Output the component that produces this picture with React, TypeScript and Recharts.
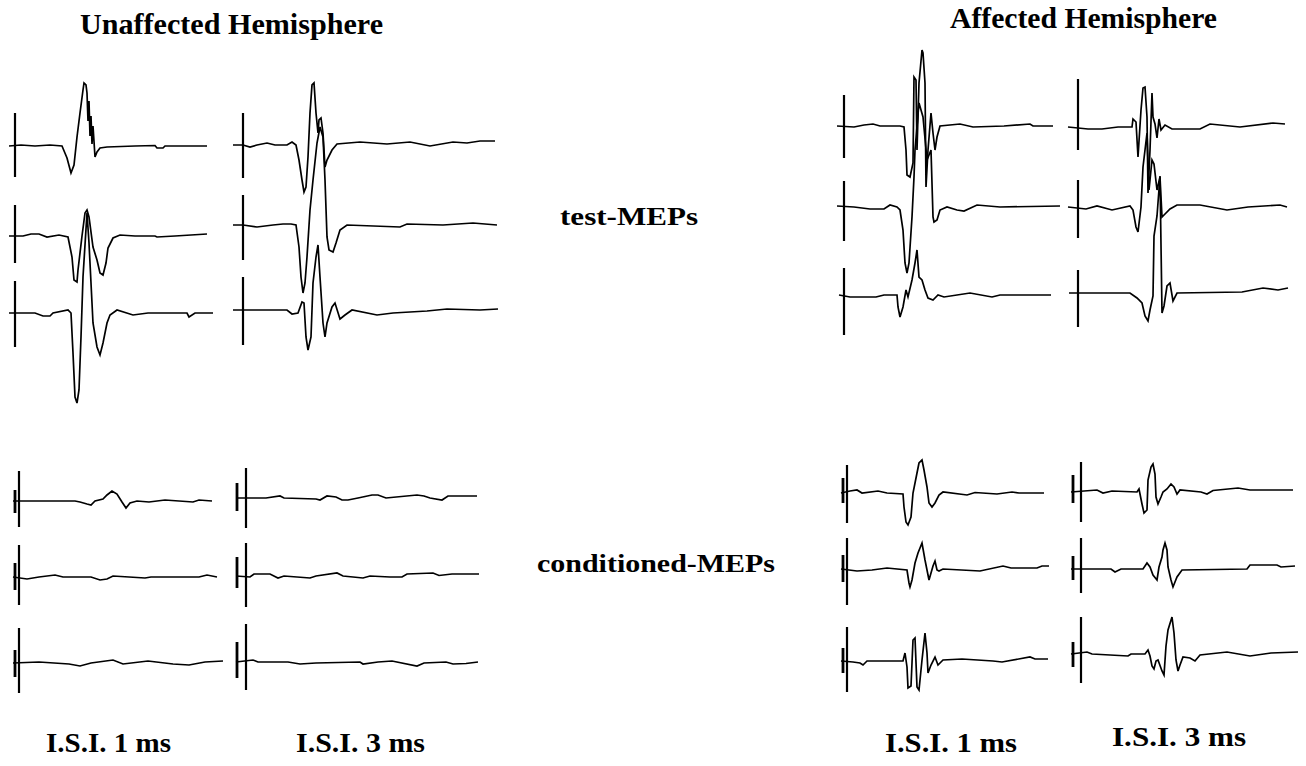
import { LineChart, Line, XAxis, YAxis } from "recharts";

// [time after test stimulus (ms), amplitude (mV)]
type Pt = [number, number];
// stimulus artifact extent [top mV, bottom mV]
type Bar = [number, number];

const HEMISPHERES = ["Unaffected Hemisphere", "Affected Hemisphere"];
const ROW_LABELS = ["test-MEPs", "conditioned-MEPs"];
const ISI_LABELS = ["I.S.I. 1 ms", "I.S.I. 3 ms"];

// ---- unaffected hemisphere, test MEPs, ISI 1 ms
const uaTest1a: Pt[] = [[-3, 0], [3, 0.1], [10, 0], [17.5, 0.1], [23.5, 0], [26, -1.2], [28, -2.7], [29.5, -1.9], [31, 0.9], [32.5, 3.3], [34, 5.6], [34.5, 6.3], [35.5, 6.1], [36, 5.3], [36.5, 2.5], [37, 4.5], [37.5, 1.0], [38, 3.0], [38.5, 0.2], [39, 2.0], [40, -1.1], [41, -0.6], [42.5, -0.2], [46, -0.1], [60, 0], [70, 0.05], [71, -0.2], [74, -0.2], [75, 0], [96, 0]];
const uaTest1b: Pt[] = [[-3, 0], [4, 0], [8, 0.2], [12, 0.2], [16, -0.1], [22, 0.1], [26.5, -0.1], [28.5, -2.1], [29.5, -4.4], [31, -4.6], [31.5, -3.4], [33.5, 0], [35, 2.3], [36, 2.6], [37, 1.9], [39, -1.1], [41, -2.4], [42.5, -3.7], [44, -3.9], [45.5, -2.7], [46.5, -1.2], [49, -0.2], [52.5, 0.1], [60, 0], [70, 0], [71, -0.1], [80, 0], [96, 0.2]];
const uaTest1c: Pt[] = [[-3, 0], [10, 0], [14, -0.3], [17.5, -0.3], [19, 0], [26.5, 0.3], [28, 0], [29, -4], [30, -8.4], [31, -9], [32, -7.7], [33, -2.4], [34, 3.6], [36, 10], [37, 7], [39, -1], [41, -3.4], [42.5, -4.2], [44, -3], [46, -1], [47.5, -0.2], [51, 0.3], [59, -0.2], [66.5, 0], [86, 0], [87, -0.4], [90, 0], [99, 0]];
const uaTest1Stim: Bar[] = [[3.3, -3.1], [3.1, -2.7], [3.2, -3.4]];

// ---- unaffected hemisphere, test MEPs, ISI 3 ms
const uaTest3a: Pt[] = [[-5, 0], [0, 0], [3.5, -0.2], [7, 0], [12, 0.2], [16, 0], [22, 0], [24.5, 0.3], [26.5, 0], [28, -1.5], [29.5, -3.5], [30.5, -4.7], [31.5, -4.2], [32.5, -1.2], [33.5, 3.2], [34.5, 6], [35.5, 6.2], [36.5, 3.2], [37.5, 1.2], [38, 2.5], [39, 2.7], [40, 1.2], [41, -2.2], [42, -1.5], [44.5, -0.5], [47, 0.1], [58.5, 0.3], [72, 0.1], [83.5, 0.3], [93.5, -0.1], [105, 0.3], [112, 0.2], [118.5, 0.4], [126, 0.4]];
const uaTest3b: Pt[] = [[-5, 0], [0, 0], [7, -0.2], [15, 0], [20, 0.1], [24, 0.1], [26.5, 0], [28, -2.2], [29, -5.2], [30, -6.8], [31, -5.8], [32, -3.2], [33.5, 1.5], [35, 4.5], [37, 8.2], [38.5, 9.8], [40, 8.8], [41, 4.5], [42, -1.2], [43, -2.5], [45, -2.7], [46.5, -1.8], [48.5, -0.5], [52, 0], [78.5, -0.2], [82, 0.1], [100, 0], [115, 0.2], [127, 0]];
const uaTest3c: Pt[] = [[-5, 0], [22, 0], [24.5, -0.4], [27.5, -0.3], [29.5, 0.8], [30.5, 0.7], [31.5, -2.7], [32.5, -4], [34, -2.7], [35, 2.7], [36.5, 5.3], [37.5, 6.5], [38.5, 3.3], [40, -1.3], [41, -2.7], [42, -1.3], [44.5, 0.3], [46, 0.7], [48.5, -0.9], [51, -0.5], [54.5, 0], [67, -0.5], [75, -0.3], [92, -0.1], [102, 0.1], [118.5, 0], [127.5, 0.1]];
const uaTest3Stim: Bar[] = [[3.2, -3.3], [3.0, -3.5], [3.3, -3.5]];

// ---- affected hemisphere, test MEPs, ISI 1 ms
const ahTest1a: Pt[] = [[-3.5, 0], [5, -0.1], [10, 0.1], [14.5, 0.2], [18, 0], [28, 0], [30, -0.1], [31, -2.4], [31.5, -4.9], [33, -5.1], [34.5, -3.7], [35, 4.9], [36, 4.6], [36.5, -2.4], [37.5, 4.3], [39, 7.6], [39.5, 7.3], [40.5, 4.3], [41, -6.1], [42, -2.4], [43.5, 1.3], [44.5, -0.7], [45.5, -2.4], [46.5, -1.1], [48, 0], [58, 0.2], [64.5, -0.1], [80, 0], [93, 0.2], [94.5, 0], [104.5, 0]];
const ahTest1b: Pt[] = [[-3.5, 0], [5, -0.1], [13, -0.3], [20, -0.3], [23, 0.1], [26.5, -0.1], [28, -0.4], [29.5, -2.4], [30.5, -5.7], [31.5, -6.7], [32.5, -5.7], [34, -1.1], [35, 2.9], [35.5, 5.6], [37.5, 10.3], [39.5, 8.9], [41.5, 4.6], [43.5, 5.6], [44.5, -1.1], [45, -1.6], [46.5, -1.4], [48, -0.4], [51.5, -0.1], [56.5, -0.4], [60, -0.5], [66.5, 0.1], [78, -0.1], [108, 0]];
const ahTest1c: Pt[] = [[-2.5, 0], [3, -0.2], [10, -0.2], [16, -0.2], [20, 0], [26.5, 0], [27, -1.2], [28, -2.2], [29.5, -1.2], [31, 0.5], [32, -0.2], [34, 1.5], [35.5, 3.2], [36.5, 4.5], [37.5, 1.8], [39, 1.5], [40.5, 0.5], [42, -0.3], [44.5, -0.5], [47, 0], [50, -0.2], [63, 0.2], [74, -0.2], [78, 0], [103.5, 0]];
const ahTest1Stim: Bar[] = [[3.1, -3.2], [2.5, -3.5], [2.7, -4.0]];

// ---- affected hemisphere, test MEPs, ISI 3 ms
const ahTest3a: Pt[] = [[-5, 0], [5, -0.2], [12, -0.2], [20, 0], [27, 0], [27.5, 0.8], [29, 0.5], [30, -3], [31.5, 1.7], [32.5, 3.9], [33.5, 4.0], [34.5, 1], [35, -6.6], [36, -2.3], [37, 3.4], [37.5, 1], [38.5, 0.3], [39.5, -1.1], [40.5, 0.8], [41.5, -0.3], [43.5, 0.2], [47, -0.2], [61, -0.2], [66, 0.3], [81, 0], [97.5, 0.4], [103.5, 0.3]];
const ahTest3b: Pt[] = [[-5, 0], [4, -0.2], [9.5, 0.1], [17, -0.3], [26, 0.1], [27.5, -0.3], [29, -2], [30, -2.5], [31.5, 0], [32.5, 4], [34.5, 7.4], [35.5, 1.7], [37, 4.7], [38, 4.3], [39.5, 1.7], [41, 3], [42, -1], [43.5, -0.7], [46, -0.2], [49.5, 0.2], [61, 0.2], [74.5, -0.3], [85, 0], [101, 0.2], [104.5, 0]];
const ahTest3c: Pt[] = [[-4.5, 0], [26, 0], [29.5, -0.5], [32, -1], [33.5, -2.3], [35, -2.8], [36, -1.7], [37.5, -0.3], [38, 5.7], [39.5, 7.7], [41, 11.7], [42, -2], [43, -1.3], [44.5, 0.7], [46, 1], [47.5, -0.8], [49.5, 0], [82, 0.1], [92.5, 0.5], [100, 0.3], [105, 0.5]];
const ahTest3Stim: Bar[] = [[4.8, -2.3], [2.7, -3.1], [2.3, -3.4]];

// ---- unaffected hemisphere, conditioned MEPs, ISI 1 ms
const uaCond1a: Pt[] = [[-3, 0], [4, 0], [28, 0], [30.5, -0.1], [34, -0.3], [36, -0.4], [38, 0], [42, 0.2], [44, 0.6], [46.5, 1.0], [49, 0.7], [51.5, -0.1], [53.5, -0.7], [55.5, -0.2], [59, 0], [65, -0.1], [73, 0.1], [87, -0.1], [90, 0.1], [96.5, 0]];
const uaCond1b: Pt[] = [[-3, 0], [4, -0.2], [10, 0], [18, 0.2], [22, 0], [36, 0], [40.5, -0.3], [44, -0.2], [47, 0.1], [55, 0], [63, -0.1], [66, 0], [90, 0], [94, 0.2], [99, 0]];
const uaCond1c: Pt[] = [[-3, 0], [10, 0.1], [25, -0.1], [30.5, -0.3], [36, 0], [47, 0.3], [52, -0.1], [64.5, 0.2], [77, -0.1], [85, -0.2], [93, 0.1], [102, 0.2]];
const uaCond1Stim: Bar[] = [[3.0, -2.6], [3.2, -2.8], [3.5, -3.0]];
const uaCond1Cond: Bar[] = [[1.1, -1.2], [1.4, -1.3], [1.3, -1.4]];

// ---- unaffected hemisphere, conditioned MEPs, ISI 3 ms
const uaCond3a: Pt[] = [[-5, 0], [10, 0], [17, 0.2], [19, 0], [35, -0.1], [37, -0.2], [40.5, 0.2], [45, 0.1], [48, -0.2], [51, -0.2], [56, 0], [63, 0.3], [66, 0.3], [70, 0], [85.5, 0.3], [89, 0.2], [92, 0], [98, -0.2], [101, 0.2], [115.5, 0.2]];
const uaCond3b: Pt[] = [[-5, 0], [2, -0.1], [4, 0.2], [12, 0.2], [16, -0.2], [19, 0], [32, -0.2], [35, 0], [45.5, 0.3], [48.5, 0], [58.5, -0.2], [62, 0], [72, -0.1], [78, -0.1], [80.5, 0.2], [93.5, 0.3], [96.5, 0.05], [103, 0.2], [116.5, 0.2]];
const uaCond3c: Pt[] = [[-5, 0], [3.5, 0.2], [6, 0], [21, 0], [27, -0.2], [35, -0.1], [57, 0], [58.5, -0.2], [66, 0], [73, 0.1], [85.5, -0.4], [89, -0.1], [100, 0], [103.5, -0.2], [110, -0.15], [116, 0]];
const uaCond3Stim: Bar[] = [[3.0, -3.0], [3.3, -3.1], [3.8, -2.8]];
const uaCond3Cond: Bar[] = [[1.5, -1.3], [1.9, -1.2], [2.0, -1.6]];

// ---- affected hemisphere, conditioned MEPs, ISI 1 ms
const ahCond1a: Pt[] = [[-3, 0], [1.5, 0.2], [5, 0.3], [7.5, 0], [15.5, 0.2], [20, 0], [28, -0.1], [28.5, -1.4], [29.5, -2.9], [30.5, -3.2], [32, -2.4], [33, 0], [35, 2], [36, 3], [37.5, 3.3], [38.5, 2.3], [40, 0.6], [41, -1], [42.5, -1.4], [44, -1], [46, -0.2], [48, 0.1], [60, -0.2], [64, 0.05], [75, -0.1], [82.5, 0.1], [86, 0], [98.5, 0]];
const ahCond1b: Pt[] = [[-3, 0], [5, -0.2], [12.5, -0.1], [20, 0.1], [30, -0.1], [31, -1.4], [31.5, -1.8], [32.5, -1.1], [34, 0.6], [35.5, 1.6], [37.5, 2.6], [39, 0.9], [41, -1.1], [43, 0.3], [44, 0.8], [45, -0.1], [46, -0.2], [48, 0], [66.5, -0.2], [78, 0.3], [82, 0.1], [95, 0.1], [97.5, 0.3], [101, 0.3]];
const ahCond1c: Pt[] = [[-3, 0], [3, -0.1], [6.5, -0.2], [8, -0.4], [10, 0], [28, 0], [29, 0.8], [30, -0.6], [30.5, -2.7], [32, -2.5], [33, 2.1], [34, 2.3], [35, -2.6], [36, -2.9], [37.5, 0.1], [39, 2.8], [40, 0.8], [40.5, -1.2], [42, -0.4], [44, 0.4], [45.5, -0.4], [48, 0.1], [57.5, 0.2], [73, 0], [77.5, -0.1], [91.5, 0.4], [94, 0.2], [100.5, 0.2]];
const ahCond1Stim: Bar[] = [[2.8, -3.0], [3.1, -3.6], [3.4, -3.1]];
const ahCond1Cond: Bar[] = [[1.5, -1.0], [1.4, -1.3], [1.3, -1.2]];

// ---- affected hemisphere, conditioned MEPs, ISI 3 ms
const ahCond3a: Pt[] = [[-5, 0], [8, 0.2], [11, -0.1], [15.5, 0.1], [28, 0], [29, 0.3], [30.5, -1.2], [31.5, -2.1], [33, -1.8], [33.5, 1.2], [35, 2.5], [36, 2.8], [37, 1.8], [37.5, -0.5], [38.5, -1.2], [40, -0.5], [41, 0], [43, 0.3], [45, 0.8], [46.5, 0.5], [48, -0.2], [49.5, 0.2], [60, 0], [63, -0.2], [66, 0.15], [78.5, 0.4], [84.5, 0.2], [106, 0.2]];
const ahCond3b: Pt[] = [[-5, 0], [15, 0], [17, -0.3], [20, 0], [31, 0], [33, 0.6], [34.5, 0.2], [36, -0.6], [38, -1.1], [39, 0.2], [40.5, 1.2], [41, 1.9], [42, 2.6], [43, 1.9], [43.5, 0.2], [45, -1.1], [46, -1.8], [48, -0.8], [50.5, -0.1], [83, 0], [84.5, 0.4], [98, 0.4], [100, 0.2], [107, 0.3]];
const ahCond3c: Pt[] = [[-5, 0], [3, 0.2], [5.5, 0], [23.5, -0.2], [25, 0], [32, 0], [33.5, 0.4], [34.5, -0.2], [35.5, -1.2], [36.5, -1.5], [37.5, -0.7], [38.5, -0.6], [40.5, -1.7], [41.5, -2.1], [42.5, 0.8], [43.5, 2.4], [45.5, 3.7], [46.5, 2.1], [47.5, -0.6], [48.5, -1.7], [49.5, -1.1], [51, -0.3], [54.5, -0.4], [57, -0.7], [59.5, -0.1], [73, 0.2], [84.5, -0.2], [95, 0.1], [108.5, 0.2]];
const ahCond3Stim: Bar[] = [[3.0, -3.0], [3.1, -2.4], [3.7, -2.9]];
const ahCond3Cond: Bar[] = [[1.7, -1.1], [1.3, -1.1], [1.2, -1.3]];

// conditioning stimulus time relative to test stimulus (ms)
const condTimes = { ua1: -2, ua3: -4.5, ah1: -2, ah3: -4 };

// sweep scale shared by all traces
const T_DOMAIN: [number, number] = [-10, 140];
const V_DOMAIN: [number, number] = [-15, 15];
const PX_MS = 2;
const PX_MV = 10;
const CW = (T_DOMAIN[1] - T_DOMAIN[0]) * PX_MS;
const CH = (V_DOMAIN[1] - V_DOMAIN[0]) * PX_MV;

type Panel = {
  traces: Pt[][];
  stim: Bar[];
  cond?: Bar[];
  condT?: number;
  stimX: number; // page x of test stimulus
  baselines: number[]; // page y of each trace's baseline
};

const panels: Panel[] = [
  { traces: [uaTest1a, uaTest1b, uaTest1c], stim: uaTest1Stim, stimX: 15, baselines: [146, 236, 313] },
  { traces: [uaTest3a, uaTest3b, uaTest3c], stim: uaTest3Stim, stimX: 243, baselines: [145, 225, 310] },
  { traces: [ahTest1a, ahTest1b, ahTest1c], stim: ahTest1Stim, stimX: 844, baselines: [126, 206, 295] },
  { traces: [ahTest3a, ahTest3b, ahTest3c], stim: ahTest3Stim, stimX: 1078, baselines: [127, 207, 293] },
  { traces: [uaCond1a, uaCond1b, uaCond1c], stim: uaCond1Stim, cond: uaCond1Cond, condT: condTimes.ua1, stimX: 19, baselines: [501, 577, 663] },
  { traces: [uaCond3a, uaCond3b, uaCond3c], stim: uaCond3Stim, cond: uaCond3Cond, condT: condTimes.ua3, stimX: 246, baselines: [498, 576, 662] },
  { traces: [ahCond1a, ahCond1b, ahCond1c], stim: ahCond1Stim, cond: ahCond1Cond, condT: condTimes.ah1, stimX: 847, baselines: [493, 569, 661] },
  { traces: [ahCond3a, ahCond3b, ahCond3c], stim: ahCond3Stim, cond: ahCond3Cond, condT: condTimes.ah3, stimX: 1081, baselines: [492, 569, 654] },
];

function Trace({ data, stim, cond, condT, left, top }: { data: Pt[]; stim: Bar; cond?: Bar; condT?: number; left: number; top: number }) {
  const rows = data.map(([t, v]) => ({ t, v }));
  const stimRows = [{ t: 0, v: stim[0] }, { t: 0, v: stim[1] }];
  const condRows = cond && condT !== undefined ? [{ t: condT, v: cond[0] }, { t: condT, v: cond[1] }] : null;
  return (
    <div style={{ position: "absolute", left, top, width: CW, height: CH, pointerEvents: "none" }}>
      <LineChart width={CW} height={CH} margin={{ top: 0, right: 0, bottom: 0, left: 0 }} accessibilityLayer={false}>
        <XAxis type="number" dataKey="t" domain={T_DOMAIN} hide />
        <YAxis type="number" domain={V_DOMAIN} hide />
        {condRows && (
          <Line data={condRows} dataKey="v" type="linear" stroke="#000" strokeWidth={2.8} dot={false} isAnimationActive={false} />
        )}
        <Line data={stimRows} dataKey="v" type="linear" stroke="#000" strokeWidth={2.2} dot={false} isAnimationActive={false} />
        <Line data={rows} dataKey="v" type="linear" stroke="#000" strokeWidth={1.7} dot={false} isAnimationActive={false} />
      </LineChart>
    </div>
  );
}

const textStyle = { fontFamily: "'Liberation Serif', 'Times New Roman', serif", fontWeight: 700, fill: "#000" } as const;

export default function App() {
  // drawn last-panel-first so the upper-left traces sit on top
  const items = panels.flatMap((p, pi) =>
    p.traces.map((tr, ti) => ({ key: `${pi}-${ti}`, p, tr, ti }))
  ).reverse();
  return (
    <div style={{ position: "absolute", left: 0, top: 0, width: 1306, height: 766, background: "#fff", overflow: "hidden" }}>
      {items.map(({ key, p, tr, ti }) => (
        <Trace
          key={key}
          data={tr}
          stim={p.stim[ti]}
          cond={p.cond ? p.cond[ti] : undefined}
          condT={p.condT}
          left={p.stimX + T_DOMAIN[0] * PX_MS}
          top={p.baselines[ti] - V_DOMAIN[1] * PX_MV}
        />
      ))}
      <svg width={1306} height={766} style={{ position: "absolute", left: 0, top: 0, pointerEvents: "none" }}>
        <text x={80} y={34} fontSize={30} textLength={303} lengthAdjust="spacingAndGlyphs" {...textStyle}>{HEMISPHERES[0]}</text>
        <text x={950} y={28} fontSize={30} textLength={267} lengthAdjust="spacingAndGlyphs" {...textStyle}>{HEMISPHERES[1]}</text>
        <text x={560} y={225} fontSize={25} textLength={138} lengthAdjust="spacingAndGlyphs" {...textStyle}>{ROW_LABELS[0]}</text>
        <text x={537} y={572} fontSize={25} textLength={238} lengthAdjust="spacingAndGlyphs" {...textStyle}>{ROW_LABELS[1]}</text>
        <text x={46} y={752} fontSize={28} textLength={125} lengthAdjust="spacingAndGlyphs" {...textStyle}>{ISI_LABELS[0]}</text>
        <text x={296} y={752} fontSize={28} textLength={129} lengthAdjust="spacingAndGlyphs" {...textStyle}>{ISI_LABELS[1]}</text>
        <text x={885} y={752} fontSize={28} textLength={132} lengthAdjust="spacingAndGlyphs" {...textStyle}>{ISI_LABELS[0]}</text>
        <text x={1112} y={746} fontSize={28} textLength={134} lengthAdjust="spacingAndGlyphs" {...textStyle}>{ISI_LABELS[1]}</text>
      </svg>
    </div>
  );
}
